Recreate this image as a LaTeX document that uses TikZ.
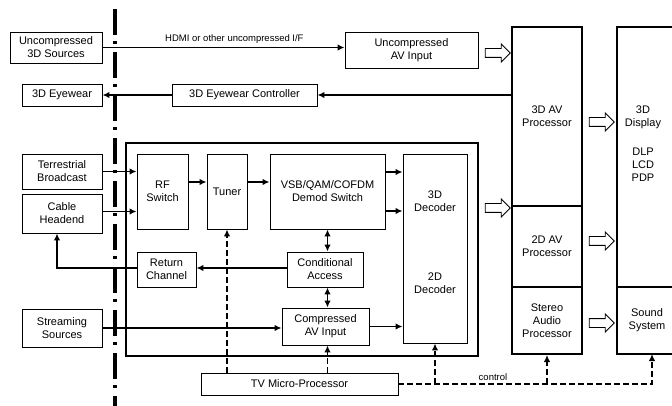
\documentclass[tikz,border=0pt]{standalone}
\usepackage{fontspec}
\setmainfont{Liberation Sans}
\usepackage{tikz}
\usetikzlibrary{arrows.meta,shapes.arrows}

\begin{document}
\begin{tikzpicture}[x=1pt,y=-1pt,>={Latex[length=7pt,width=6.5pt]}]
        \tikzstyle{every node}=[font=\fontsize{11}{13}\selectfont,align=center]
        \tikzstyle{blk}=[draw,line width=0.9pt,inner sep=1pt]
        \tikzstyle{bigblk}=[draw,line width=2pt,inner sep=1pt]
        \tikzstyle{sig}=[line width=1.8pt]
        \tikzstyle{ctl}=[line width=1.6pt,dash pattern=on 6pt off 3pt]
        \tikzstyle{small}=[font=\fontsize{9.5}{11}\selectfont]
        \tikzstyle{hollow}=[single arrow,draw,line width=0.9pt,inner sep=4pt,
        minimum height=25pt,single arrow head extend=4.5pt]

        \clip (0,0) rectangle (672,406);

        %% Demarcation line
        \coordinate (cut_top) at (115,9);
        \coordinate (cut_bot) at (115,406);
        \draw[line width=3.5pt,dash pattern=on 26pt off 6pt on 3pt off 8pt] (cut_top) -- (cut_bot);

        %% Sources and outside units
        \begin{scope}[every node/.append style={blk}]
            \node[minimum width=92pt,minimum height=31pt] (u_src) at (56,47.5) {Uncompressed\\3D Sources};
            \node[minimum width=80pt,minimum height=22pt] (eyewear) at (62,95) {3D Eyewear};
            \node[minimum width=80pt,minimum height=35pt] (terr) at (62,171.5) {Terrestrial\\Broadcast};
            \node[minimum width=80pt,minimum height=39pt] (cable) at (62,213.5) {Cable\\Headend};
            \node[minimum width=80pt,minimum height=38pt] (stream) at (62,328) {Streaming\\Sources};
            \node[minimum width=145pt,minimum height=22pt] (eye_ctl) at (244.5,95) {3D Eyewear Controller};
            \node[minimum width=133pt,minimum height=36pt] (uav_in) at (411.5,50) {Uncompressed\\AV Input};
            \node[minimum width=197pt,minimum height=22pt] (micro) at (299.5,384) {TV Micro-Processor};
        \end{scope}

        %% Receiver
        \node[bigblk,minimum width=352pt,minimum height=213pt] (rx_box) at (302,249.5) {};
        \begin{scope}[every node/.append style={blk}]
            \node[minimum width=51pt,minimum height=75pt] (rf_sw) at (162.5,191.5) {RF\\Switch};
            \node[minimum width=40pt,minimum height=75pt] (tuner) at (227,191.5) {Tuner};
            \node[minimum width=115pt,minimum height=75pt] (demod) at (327.5,191.5) {VSB/QAM/COFDM\\Demod Switch};
            \node[minimum width=64pt,minimum height=189pt] (dec) at (435,248.5) {};
            \node[minimum width=59pt,minimum height=35pt] (ret_ch) at (166.5,269.5) {Return\\Channel};
            \node[minimum width=76pt,minimum height=35pt] (cond_acc) at (325,269.5) {Conditional\\Access};
            \node[minimum width=87pt,minimum height=37pt] (c_avin) at (325.5,326.5) {Compressed\\AV Input};
        \end{scope}
        \node (dec_3d) at (435,201) {3D\\Decoder};
        \node (dec_2d) at (435,283) {2D\\Decoder};

        %% Processors and display
        \begin{scope}[every node/.append style={bigblk}]
            \node[minimum width=70pt,minimum height=179pt] (p_3d) at (547,116.5) {3D AV\\Processor};
            \node[minimum width=70pt,minimum height=81pt] (p_2d) at (547,246.5) {2D AV\\Processor};
            \node[minimum width=70pt,minimum height=67pt] (p_aud) at (547,320.5) {Stereo\\Audio\\Processor};
            \node[minimum width=60pt,minimum height=260pt] (disp) at (647,157) {};
            \node[minimum width=60pt,minimum height=67pt] (snd) at (647,320.5) {Sound\\System};
        \end{scope}
        \node (disp_txt) at (643,143.5) {3D\\Display\\[16pt]DLP\\LCD\\PDP};

        %% Hollow arrows
        \node[hollow] (ha_1) at (495.5,53) {};
        \node[hollow] (ha_2) at (495.5,208) {};
        \node[hollow] (ha_3) at (599.5,122) {};
        \node[hollow] (ha_4) at (599.5,241) {};
        \node[hollow] (ha_5) at (599.5,323) {};

        %% Signal paths
        \draw[sig,->] (u_src.east) -- (u_src.east -| uav_in.west)
            node[small,above,pos=0.545] (hdmi_lbl) {HDMI or other uncompressed I/F};
        \draw[sig,->] (p_3d.west |- eye_ctl) -- (eye_ctl);
        \draw[sig,->] (eye_ctl) -- (eyewear);
        \draw[sig,->] (terr.east) -- (terr.east -| rf_sw.west);
        \draw[sig,->] ([yshift=2pt]cable.east) -- ([yshift=2pt]cable.east -| rf_sw.west);
        \draw[sig,->] ([yshift=9.5pt]rf_sw.east) -- ([yshift=9.5pt]tuner.west);
        \draw[sig,->] ([yshift=9.5pt]tuner.east) -- ([yshift=9.5pt]demod.west);
        \draw[sig,->] ([yshift=19.5pt]demod.east) -- ([yshift=19.5pt]demod.east -| dec.west);
        \draw[sig,->] ([yshift=-19.5pt]demod.east) -- ([yshift=-19.5pt]demod.east -| dec.west);
        \draw[sig,<->] (demod.south) -- (demod.south |- cond_acc.north);
        \draw[sig,<->] (demod.south |- cond_acc.south) -- (demod.south |- c_avin.north);
        \draw[sig,->] ([yshift=1.5pt]cond_acc.west) -- ([yshift=1.5pt]ret_ch.east);
        \draw[sig,->] ([yshift=1.5pt]ret_ch.west) -| ([xshift=-5pt]cable.south);
        \draw[sig,->] (stream.east) -- (stream.east -| c_avin.west);
        \draw[sig,->] (c_avin.east) -- (c_avin.east -| dec.west);

        %% Control paths
        \coordinate (snd_in) at (652,354);
        \draw[ctl,->] (micro.north -| tuner.south) -- (tuner.south);
        \draw[ctl,->] (micro.north -| demod.south) -- (c_avin.south -| demod.south);
        \draw[ctl,->] (micro.east) -| (snd_in);
        \draw[ctl,->] (micro.east -| dec.south) -- (dec.south);
        \draw[ctl,->] (micro.east -| p_aud.south) -- (p_aud.south);
        \node[small] (ctl_lbl) at (493,377) {control};

\end{tikzpicture}
\end{document}
